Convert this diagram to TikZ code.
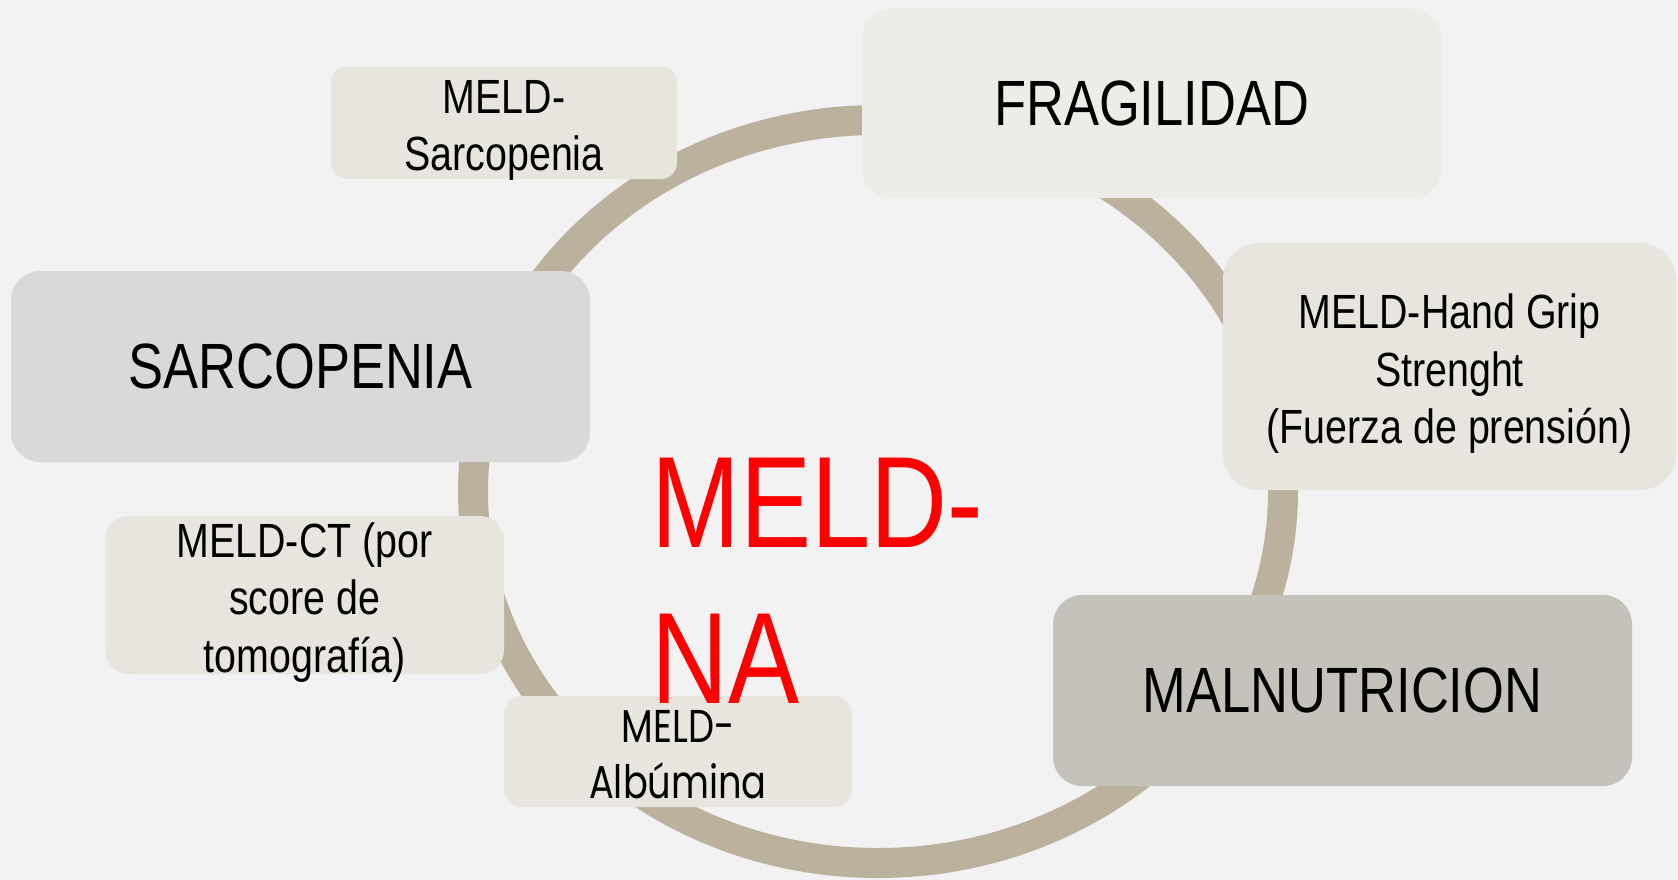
\documentclass[tikz,border=0pt]{standalone}
\usepackage{fontspec}
\setmainfont{Liberation Sans}[FakeStretch=0.82]
\newfontfamily\bigfont{Liberation Sans}[FakeStretch=0.82]
\newfontfamily\geofont{Poppins}[FakeStretch=0.8]
\definecolor{bgc}{HTML}{F2F2F2}
\definecolor{ringc}{HTML}{BBB19D}
\definecolor{fragc}{HTML}{EDEDE8}
\definecolor{smallc}{HTML}{E8E5DF}
\definecolor{sarcc}{HTML}{D9D9D9}
\definecolor{malc}{HTML}{C5C1BB}
\tikzset{
  bigbox/.style={rectangle, inner sep=0pt, rounded corners=29pt, align=center,
    font=\fontsize{64}{77}\selectfont},
  smallbox/.style={rectangle, inner sep=0pt, fill=smallc},
  smalltext/.style={inner sep=0pt, align=center, yshift=-7.5pt,
    font=\fontsize{48}{57.5}\selectfont},
  ringline/.style={draw=ringc, line width=30pt}
}
\begin{document}
\begin{tikzpicture}[x=1pt,y=-1pt]
\useasboundingbox (0,0) rectangle (1678,880);
\fill[bgc] (0,0) rectangle (1678,880);
% ring
\draw[ringline] (878,491.5) ellipse [x radius=405, y radius=371.5];
% big boxes
\node[bigbox, fill=fragc, minimum width=579pt, minimum height=189pt] (frag) at (1151.5,103.5) {FRAGILIDAD};
\node[bigbox, fill=sarcc, minimum width=579pt, minimum height=191pt] (sarc) at (300.5,366.5) {SARCOPENIA};
\node[bigbox, fill=malc, minimum width=579pt, minimum height=191pt] (mal) at (1342.5,690.5) {MALNUTRICION};
% small boxes
\node[smallbox, rounded corners=16pt, minimum width=346pt, minimum height=112pt] (msarc) at (504,123) {};
\node[smalltext] (msarct) at (msarc.center) {MELD-\\Sarcopenia};
\node[smallbox, rounded corners=36pt, minimum width=453pt, minimum height=247pt] (mhand) at (1449.5,366.5) {};
\node[smalltext] (mhandt) at (mhand.center) {MELD-Hand Grip\\Strenght\\(Fuerza de prensión)};
\node[smallbox, rounded corners=24pt, minimum width=399pt, minimum height=158pt] (mct) at (304.5,595) {};
\node[smalltext] (mctt) at (mct.center) {MELD-CT (por\\score de\\tomografía)};
\node[smallbox, rounded corners=18pt, minimum width=348pt, minimum height=111pt] (malb) at (678,751.5) {};
\node[smalltext, yshift=4.5pt, font=\geofont\fontsize{46}{56}\selectfont] (malbt) at (malb.center) {MELD-\\Albúmina};
% central label
\node[anchor=north west, inner sep=0pt, align=left, text=red, font=\bigfont\fontsize{130}{156}\selectfont] (meldna) at (651,458) {MELD-\\NA};
\end{tikzpicture}
\end{document}
